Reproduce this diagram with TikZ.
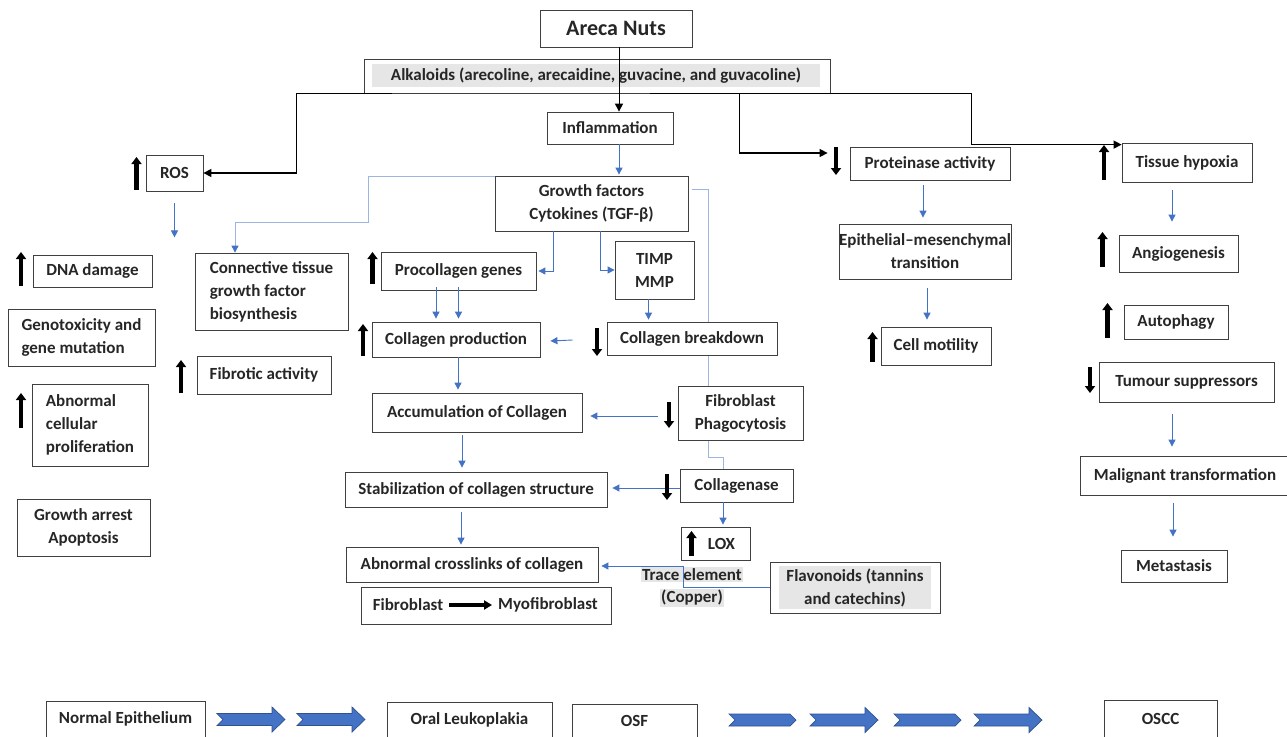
\documentclass[tikz,border=0pt]{standalone}
\usepackage{fontspec}
\setmainfont{Carlito}
\usetikzlibrary{arrows.meta,calc}
\definecolor{bl}{HTML}{4472C4}
\definecolor{lb}{HTML}{9DB5E0}
\definecolor{gfill}{HTML}{E7E6E6}
\definecolor{bdraw}{HTML}{2F528F}
\definecolor{txt}{HTML}{262626}
\definecolor{bord}{HTML}{404040}
\pgfdeclarelayer{bg}
\pgfsetlayers{bg,main}
\begin{document}
\begin{tikzpicture}[x=1pt,y=-1pt,
  fnt/.style={font=\bfseries\fontsize{17}{23}\selectfont},
  box/.style={draw=bord, line width=0.8pt, fill=white, inner sep=0pt, align=center, text=txt, fnt},
  plain/.style={inner sep=0pt, align=center, text=txt, fnt},
  barr/.style={draw=bl, line width=0.9pt, -{Triangle[width=7pt,length=7pt]}},
  lbline/.style={draw=lb, line width=0.9pt},
  karr/.style={draw=black, line width=1.3pt, -{Triangle[width=8pt,length=8pt]}},
  thk/.style={draw=black, line width=4.5pt, -{Triangle[width=10pt,length=7pt]}},
  myarr/.style={draw=black, line width=3.5pt, -{Triangle[width=9pt,length=8pt]}},
  hdarrow/.pic={\filldraw[fill=bl, draw=bdraw, line width=0.7pt]
     (0,-6) -- (55,-6) -- (55,-12.5) -- (68,0) -- (55,12.5) -- (55,6) -- (0,6) -- (6,0) -- cycle;},
  chevarrow/.pic={\filldraw[fill=bl, draw=bdraw, line width=0.7pt]
     (0,-6) -- (61,-6) -- (67,0) -- (61,6) -- (0,6) -- (6,0) -- cycle;}
]
\begin{pgfonlayer}{bg}
\fill[white] (0,0) rectangle (1287,736);
\end{pgfonlayer}
\useasboundingbox (0,0) rectangle (1287,736);

% ---- top
\node[box, minimum width=152, minimum height=37, font=\bfseries\fontsize{22}{26}\selectfont] (areca) at (616,28.5) {Areca Nuts};
\node[box, minimum width=466, minimum height=34] (alk) at (597,76) {};
\node[plain, fill=gfill, minimum width=448, minimum height=23] (alkt) at (596,75.5) {Alkaloids (arecoline, arecaidine, guvacine, and guvacoline)};
\node[box, minimum width=126, minimum height=32] (infl) at (610,128) {Inflammation};

% ---- left column
\node[box, minimum width=57, minimum height=36] (ros) at (174.5,173) {ROS};
\node[box, minimum width=119, minimum height=32] (dna) at (92.5,271) {DNA damage};
\node[box, minimum width=147, minimum height=57, align=left] (geno) at (81.5,337.5) {Genotoxicity and\\gene mutation};
\node[box, minimum width=116, minimum height=82, align=left] (abn) at (90,425) {Abnormal\\cellular\\proliferation};
\node[box, minimum width=133, minimum height=57] (ga) at (83.5,527.5) {Growth arrest\\Apoptosis};
\node[box, minimum width=153, minimum height=77, align=left] (ctgf) at (271.5,291.5) {Connective tissue\\growth factor\\biosynthesis};
\node[box, minimum width=134, minimum height=38] (fibr) at (264,375) {Fibrotic activity};

% ---- centre
\node[box, minimum width=193, minimum height=55] (gf) at (591.5,203.5) {Growth factors\\Cytokines (TGF-β)};
\node[box, minimum width=155, minimum height=38] (proc) at (458.5,271) {Procollagen genes};
\node[box, minimum width=79, minimum height=58] (timp) at (654.5,270) {TIMP\\MMP};
\node[box, minimum width=168, minimum height=35] (colprod) at (456,339.5) {Collagen production};
\node[box, minimum width=170, minimum height=33] (brk) at (692,338.5) {Collagen breakdown};
\node[box, minimum width=210, minimum height=39] (accum) at (477,412.5) {Accumulation of Collagen};
\node[box, minimum width=125, minimum height=54] (fib) at (740.5,413) {Fibroblast\\Phagocytosis};
\node[box, minimum width=262, minimum height=35] (stab) at (476,489.5) {Stabilization of collagen structure};
\node[box, minimum width=113, minimum height=33] (colg) at (736.5,485.5) {Collagenase};
\node[box, minimum width=69, minimum height=33] (lox) at (715.5,543.5) {\hspace*{12pt}LOX};
\node[box, minimum width=252, minimum height=35] (abnx) at (472,564.5) {Abnormal crosslinks of collagen};
\node[box, minimum width=250, minimum height=37] (myo) at (486,605.5) {};
\node[plain] (fbl) at (408,605) {Fibroblast};
\node[plain] (myf) at (548,605) {Myofibroblast};
\setlength{\fboxsep}{1.5pt}
\node[plain, font=\bfseries\fontsize{17}{22}\selectfont] (trace) at (692,587) {\colorbox{gfill}{Trace element}\\\colorbox{gfill}{(Copper)}};
\node[box, minimum width=170, minimum height=51] (flav) at (855,587.5) {};
\node[plain, fill=gfill, minimum width=152, minimum height=43] (flavt) at (855,587.5) {Flavonoids (tannins\\and catechins)};

% ---- right
\node[box, minimum width=160, minimum height=33] (prot) at (930,163.5) {Proteinase activity};
\node[box, minimum width=170, minimum height=55] (emt) at (925,251.5) {Epithelial–mesenchymal\\transition};
\node[box, minimum width=110, minimum height=38] (cellm) at (936,346) {Cell motility};
\node[box, minimum width=130, minimum height=39] (hyp) at (1187,162.5) {Tissue hypoxia};
\node[box, minimum width=119, minimum height=37] (angio) at (1178.5,253.5) {Angiogenesis};
\node[box, minimum width=104, minimum height=34] (auto) at (1176,322) {Autophagy};
\node[box, minimum width=175, minimum height=40] (tum) at (1186.5,382) {Tumour suppressors};
\node[box, minimum width=210, minimum height=39] (mal) at (1185,475.5) {Malignant transformation};
\node[box, minimum width=106, minimum height=32] (meta) at (1174,566) {Metastasis};

% ---- bottom row
\node[box, minimum width=159, minimum height=36] (ne) at (125.5,719) {Normal Epithelium};
\node[box, minimum width=165, minimum height=36] (ol) at (469.5,720) {Oral Leukoplakia};
\node[box, minimum width=125, minimum height=34] (osf) at (634.5,721) {OSF};
\node[box, minimum width=113, minimum height=38] (oscc) at (1160.5,719) {OSCC};
\pic at (217,719.5) {hdarrow};
\pic at (297,719.5) {hdarrow};
\pic at (729,720) {chevarrow};
\pic at (810,720) {hdarrow};
\pic at (894,720) {chevarrow};
\pic at (974,720) {hdarrow};

% ---- light blue lines (behind boxes)
\begin{pgfonlayer}{bg}
\draw[lbline, -{Triangle[width=7pt,length=7pt,color=bl]}] ($(gf.north west)+(0,1)$) -| (368,222) -| ($(ctgf.north)+(-36.5,0)$);
\draw[lbline] ($(gf.east)+(4,-14.5)$) -- (708,189) -- (708,457) -- (723,457) -- ($(colg.north)+(-13.5,0)$);
\end{pgfonlayer}

% ---- black connectors
\draw[karr] ($(alk.south west)+(28,0)$) -| ($(ros.east)+(93,0)$) -- (ros.east);
\draw[karr] ($(alk.south)+(53,0)$) -| ($(prot.west)+(-110,-10.5)$) -- ($(prot.west)+(-22,-10.5)$);
\draw[karr] ($(alk.south)+(53,0)$) -| ($(hyp.north west)+(-150,2)$) -- ($(hyp.north west)+(0,2)$);
\draw[karr, line width=1pt] ($(areca.south)+(3,0)$) -- ($(areca.south |- infl.north)+(3,0)$);

% ---- blue connectors
\draw[barr] ($(infl.south)+(9,0)$) -- ($(infl.south |- gf.north)+(9,-1)$);
\draw[barr] ($(gf.south)+(-38.5,0)$) |- ($(proc.east)+(2,0)$);
\draw[barr] ($(gf.south)+(8.5,0)$) |- (timp.west);
\draw[barr] ($(proc.south)+(-22.5,-3)$) -- ($(proc.south |- colprod.north)+(-22.5,-3)$);
\draw[barr] ($(proc.south)+(0,-3)$) -- ($(proc.south |- colprod.north)+(0,-3)$);
\draw[barr] ($(timp.south)+(-6,0)$) -- ($(timp.south |- brk.north)+(-6,-2)$);
\draw[barr] ($(brk.west)+(-34,1.5)$) -- ($(colprod.east)+(10,1.5)$);
\draw[barr] ($(colprod.south)+(2,0)$) -- ($(colprod.south |- accum.north)+(2,-3)$);
\draw[barr] ($(fib.west)+(-20,3)$) -- ($(accum.east)+(8,3.5)$);
\draw[barr] ($(accum.south)+(-15,3)$) -- ($(accum.south |- stab.north)+(-15,-4)$);
\draw[barr] ($(colg.west)+(0,2.5)$) -- ($(stab.east)+(5,-1.5)$);
\draw[barr] ($(colg.south)+(-13.5,0)$) -- ($(colg.south |- lox.north)+(-13.5,-2)$);
\draw[barr] ($(stab.south)+(-15,5)$) -- ($(stab.south |- abnx.north)+(-15,-2)$);
\draw[barr] (flav.west) -| ($(abnx.east)+(85,1.5)$) -- ($(abnx.east)+(3,1.5)$);
\draw[barr] ($(ros.south)+(0,12)$) -- ++(0,34);
\draw[barr] ($(prot.south)+(-7,5)$) -- ($(prot.south |- emt.north)+(-7,-6)$);
\draw[barr] ($(emt.south)+(2,9)$) -- ($(emt.south |- cellm.north)+(2,-7)$);
\draw[barr] ($(hyp.south)+(-15,8)$) -- ($(hyp.south |- angio.north)+(-15,-13)$);
\draw[barr] ($(tum.south)+(-14.5,12)$) -- ($(tum.south |- mal.north)+(-14.5,-9)$);
\draw[barr] ($(mal.south)+(-12,8)$) -- ($(mal.south |- meta.north)+(-12,-13)$);
\draw[myarr, shorten <=6pt, shorten >=6pt] (fbl.east) -- (myf.west);

% ---- thick up/down markers
\draw[thk] (136.5,190) -- (136.5,157);
\draw[thk] (21,286) -- (21,252);
\draw[thk] (21,428) -- (21,393);
\draw[thk] (181,393) -- (181,360);
\draw[thk] (372.5,284) -- (372.5,252);
\draw[thk] (363,356) -- (363,324);
\draw[thk] (597,328) -- (597,356);
\draw[thk] (669,402) -- (669,428);
\draw[thk] (667,474) -- (667,500);
\draw[thk] (691.5,556) -- (691.5,531);
\draw[thk] (836,147) -- (836,175);
\draw[thk] (872.5,362) -- (872.5,332);
\draw[thk] (1104,180) -- (1104,145);
\draw[thk] (1102.5,267) -- (1102.5,232);
\draw[thk] (1107.5,338) -- (1107.5,303);
\draw[thk] (1090,367) -- (1090,393);
\end{tikzpicture}
\end{document}
